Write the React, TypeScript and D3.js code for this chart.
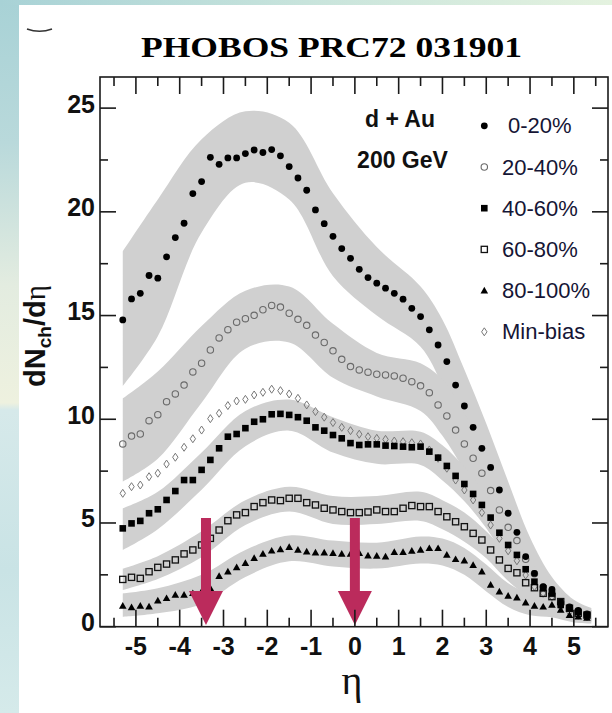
import React from 'react';
import * as d3 from 'd3';

// ---------- data ----------
const eta = [
  -5.3, -5.1, -4.9, -4.7, -4.5, -4.3, -4.1, -3.9, -3.7, -3.5, -3.3, -3.1, -2.9, -2.7, -2.5, -2.3, -2.1, -1.9,
  -1.7, -1.5, -1.3, -1.1, -0.9, -0.7, -0.5, -0.3, -0.1, 0.1, 0.3, 0.5, 0.7, 0.9, 1.1, 1.3, 1.5, 1.7,
  1.9, 2.1, 2.3, 2.5, 2.7, 2.9, 3.1, 3.3, 3.5, 3.7, 3.9, 4.1, 4.3, 4.5, 4.7, 4.9, 5.1, 5.3,
];

const c0_20 = [
  14.79, 15.8, 16.07, 16.93, 16.8, 17.83, 18.76, 19.45, 20.88, 21.46, 22.63, 22.29, 22.6, 22.6, 22.81, 22.98, 22.86, 23.0,
  22.7, 22.18, 21.63, 21.04, 20.09, 19.43, 18.82, 18.23, 17.76, 17.23, 16.83, 16.56, 16.32, 16.07, 15.79, 15.35, 14.95, 14.31,
  13.58, 12.78, 11.65, 10.64, 9.61, 8.6, 7.68, 6.59, 5.47, 4.55, 3.38, 2.57, 1.93, 1.8, 1.2, 0.95, 0.78, 0.62,
];
const c20_40 = [
  8.81, 9.19, 9.29, 9.93, 10.22, 10.85, 11.22, 11.65, 12.28, 12.7, 13.34, 13.92, 14.32, 14.68, 14.85, 15.01, 15.28, 15.49,
  15.41, 15.11, 14.82, 14.53, 14.06, 13.7, 13.3, 12.89, 12.54, 12.38, 12.27, 12.17, 12.14, 12.09, 11.98, 11.81, 11.61, 11.28,
  10.69, 10.16, 9.48, 8.81, 8.12, 7.4, 6.56, 5.63, 4.79, 4.15, 3.25, 2.55, 1.9, 1.6, 1.15, 0.9, 0.72, 0.58,
];
const c40_60 = [
  4.74, 4.98, 5.1, 5.47, 5.66, 6.11, 6.54, 7.07, 7.07, 7.56, 8.04, 8.6, 9.16, 9.29, 9.57, 9.88, 10.0, 10.24,
  10.26, 10.21, 10.1, 9.93, 9.61, 9.45, 9.24, 9.08, 8.85, 8.76, 8.79, 8.79, 8.73, 8.71, 8.68, 8.65, 8.68, 8.44,
  8.15, 7.75, 7.27, 6.88, 6.4, 5.87, 5.26, 4.53, 3.94, 3.46, 2.77, 2.17, 1.85, 1.6, 1.05, 0.89, 0.72, 0.56,
];
const c60_80 = [
  2.28, 2.38, 2.33, 2.65, 2.86, 3.02, 3.22, 3.51, 3.7, 3.94, 4.26, 4.66, 5.11, 5.39, 5.5, 5.79, 5.98, 6.11,
  6.08, 6.19, 6.19, 5.98, 5.87, 5.71, 5.63, 5.55, 5.5, 5.5, 5.53, 5.63, 5.55, 5.55, 5.71, 5.84, 5.79, 5.79,
  5.55, 5.3, 5.06, 4.82, 4.5, 4.18, 3.7, 3.22, 2.81, 2.6, 2.12, 1.88, 1.61, 1.45, 1.21, 0.89, 0.65, 0.56,
];
const c80_100 = [
  1.0, 0.93, 1.0, 0.97, 1.25, 1.37, 1.53, 1.53, 1.61, 1.69, 1.85, 2.44, 2.65, 2.86, 3.06, 3.3, 3.51, 3.66,
  3.73, 3.83, 3.7, 3.62, 3.57, 3.57, 3.54, 3.51, 3.51, 3.54, 3.42, 3.41, 3.38, 3.59, 3.59, 3.65, 3.7, 3.78,
  3.78, 3.46, 3.25, 3.18, 2.97, 2.65, 2.01, 1.69, 1.48, 1.4, 1.16, 1.0, 0.96, 1.05, 0.81, 0.56, 0.48, 0.42,
];
const minBias = [
  6.43, 6.75, 6.83, 7.23, 7.4, 7.84, 8.17, 8.65, 9.06, 9.48, 10.03, 10.29, 10.66, 10.88, 10.96, 11.17, 11.3, 11.45,
  11.38, 11.22, 11.01, 10.69, 10.37, 10.1, 9.84, 9.61, 9.45, 9.28, 9.16, 9.08, 9.03, 8.95, 8.92, 8.87, 8.81, 8.52,
  8.12, 7.64, 7.07, 6.59, 6.11, 5.5, 4.9, 4.26, 3.66, 3.18, 2.49, 1.93, 1.61, 1.45, 0.95, 0.7, 0.55, 0.48,
];

// systematic-error bands
const bandEta = [-5.3, -4.5, -3.5, -2.5, -1.5, -0.5, 0.5, 1.5, 2.0, 2.5, 3.0, 3.5, 4.0, 4.5, 5.0, 5.4];
const band0_20Hi = [18.1, 20.6, 23.5, 24.85, 24.3, 20.9, 18.3, 16.4, 14.8, 12.4, 9.8, 7.0, 4.3, 2.4, 1.3, 0.9];
const band0_20Lo = [11.6, 14.0, 19.0, 21.4, 20.6, 16.9, 15.0, 13.5, 11.6, 8.9, 6.4, 4.0, 2.0, 1.0, 0.5, 0.35];
const band20_40Hi = [11.0, 12.3, 14.5, 16.2, 16.4, 14.6, 13.2, 12.7, 11.9, 10.3, 8.4, 6.1, 3.9, 2.2, 1.2, 0.8];
const band20_40Lo = [7.0, 8.1, 10.8, 13.4, 13.7, 12.0, 11.1, 10.4, 9.2, 7.5, 5.6, 3.6, 1.9, 0.9, 0.45, 0.3];
const band40_60Hi = [5.7, 6.5, 8.4, 10.4, 10.95, 10.1, 9.45, 9.4, 8.75, 7.7, 6.35, 4.75, 3.2, 2.0, 1.15, 0.8];
const band40_60Lo = [3.7, 4.7, 6.6, 8.7, 9.45, 8.4, 7.85, 7.8, 7.05, 6.05, 4.75, 3.15, 1.8, 1.0, 0.45, 0.25];
const band60_80Hi = [2.8, 3.4, 4.6, 6.1, 6.75, 6.3, 6.3, 6.5, 6.1, 5.5, 4.6, 3.5, 2.6, 1.9, 1.2, 0.8];
const band60_80Lo = [1.77, 2.3, 3.35, 4.9, 5.55, 4.95, 4.95, 5.1, 4.7, 4.1, 3.3, 2.2, 1.4, 0.95, 0.4, 0.25];
const band80_100Hi = [1.6, 1.85, 2.5, 3.7, 4.4, 4.15, 4.05, 4.35, 4.25, 3.8, 3.0, 2.1, 1.6, 1.4, 0.95, 0.7];
const band80_100Lo = [0.48, 0.65, 1.1, 2.4, 3.15, 2.9, 2.8, 3.05, 2.95, 2.5, 1.7, 0.95, 0.55, 0.45, 0.2, 0.15];

const yMajorTicks = [0, 5, 10, 15, 20, 25];
const yMinorTicks = [2.5, 7.5, 12.5, 17.5, 22.5];
const yTickLabels = ['0', '5', '10', '15', '20', '25'];
const xMajorTicks = [-5, -4, -3, -2, -1, 0, 1, 2, 3, 4, 5];
const xMinorTicks = [-5.5, -4.5, -3.5, -2.5, -1.5, -0.5, 0.5, 1.5, 2.5, 3.5, 4.5, 5.5];
const xTickLabels = ['-5', '-4', '-3', '-2', '-1', '0', '1', '2', '3', '4', '5'];
const legendLabels = ['0-20%', '20-40%', '40-60%', '60-80%', '80-100%', 'Min-bias'];
const titleText = 'PHOBOS PRC72 031901';
const systemLines = ['d + Au', '200 GeV'];
const arrowEta = [-3.4, 0];
const arrowTopVal = 5.24;
const arrowHeadVal = 1.72;
const arrowTipVal = 0.08;

// ---------- layout ----------
const W = 612;
const H = 713;
const X0 = 100, X1 = 608, Y0 = 77, Y1 = 626.7;
const x = d3.scaleLinear().domain([-5.82, 5.78]).range([X0, X1]);
const y = d3.scaleLinear().domain([0, 26.5]).range([Y1, Y0]);

const SANS = '"Liberation Sans", Arial, Helvetica, sans-serif';
const SERIF = '"Liberation Serif", "Times New Roman", serif';
const BAND = '#d0d0d0';
const AXIS = '#1a1a1a';
const ARROW = '#bb2b5c';

type Kind = 'fc' | 'oc' | 'fs' | 'os' | 'ft' | 'od';

function Marker({ kind, cx, cy }: { kind: Kind; cx: number; cy: number }) {
  switch (kind) {
    case 'fc':
      return <circle cx={cx} cy={cy} r={3.4} fill="#000" />;
    case 'oc':
      return <circle cx={cx} cy={cy} r={3.2} fill="none" stroke="#6a6a6a" strokeWidth={1.1} />;
    case 'fs':
      return <rect x={cx - 3.3} y={cy - 3.3} width={6.6} height={6.6} fill="#000" />;
    case 'os':
      return <rect x={cx - 3.1} y={cy - 3.1} width={6.2} height={6.2} fill="none" stroke="#111" strokeWidth={1.3} />;
    case 'ft':
      return <path d={`M${cx},${cy - 3.9} L${cx + 3.8},${cy + 2.8} L${cx - 3.8},${cy + 2.8} Z`} fill="#000" />;
    case 'od':
      return (
        <path
          d={`M${cx},${cy - 4} L${cx + 2.7},${cy} L${cx},${cy + 4} L${cx - 2.7},${cy} Z`}
          fill="none"
          stroke="#777"
          strokeWidth={1}
        />
      );
  }
  return null;
}

const seriesList: { name: string; values: number[]; kind: Kind }[] = [
  { name: legendLabels[5], values: minBias, kind: 'od' },
  { name: legendLabels[1], values: c20_40, kind: 'oc' },
  { name: legendLabels[0], values: c0_20, kind: 'fc' },
  { name: legendLabels[3], values: c60_80, kind: 'os' },
  { name: legendLabels[2], values: c40_60, kind: 'fs' },
  { name: legendLabels[4], values: c80_100, kind: 'ft' },
];
const legendKinds: Kind[] = ['fc', 'oc', 'fs', 'os', 'ft', 'od'];

const bands = [
  { hi: band0_20Hi, lo: band0_20Lo },
  { hi: band20_40Hi, lo: band20_40Lo },
  { hi: band40_60Hi, lo: band40_60Lo },
  { hi: band60_80Hi, lo: band60_80Lo },
  { hi: band80_100Hi, lo: band80_100Lo },
];

export default function App() {
  const area = d3
    .area<number>()
    .x((_, i) => x(bandEta[i]))
    .curve(d3.curveCatmullRom.alpha(0.5));

  return (
    <svg
      width={W}
      height={H}
      viewBox={`0 0 ${W} ${H}`}
      style={{ position: 'absolute', left: 0, top: 0, display: 'block', background: '#fff' }}
    >
      <defs>
        <linearGradient id="leftStrip" x1="0" y1="0" x2="0" y2="1">
          <stop offset="0" stopColor="#a8d2d6" />
          <stop offset="0.2" stopColor="#b9d9db" />
          <stop offset="0.4" stopColor="#e3ece0" />
          <stop offset="0.565" stopColor="#eef1df" />
          <stop offset="0.575" stopColor="#d6e9ea" />
          <stop offset="0.8" stopColor="#c9e3e5" />
          <stop offset="1" stopColor="#d5eaea" />
        </linearGradient>
        <linearGradient id="topStrip" x1="0" y1="0" x2="1" y2="0">
          <stop offset="0" stopColor="#a8d2d6" />
          <stop offset="0.5" stopColor="#c8e4dc" />
          <stop offset="1" stopColor="#e4f2df" />
        </linearGradient>
        <clipPath id="plotClip">
          <rect x={X0} y={Y0} width={X1 - X0} height={Y1 - Y0} />
        </clipPath>
      </defs>

      {/* background */}
      <rect x={0} y={0} width={W} height={H} fill="#fff" />
      <rect x={0} y={0} width={19} height={H} fill="url(#leftStrip)" />
      <rect x={0} y={0} width={W} height={5} fill="url(#topStrip)" />
      <path d="M27,29 Q39.5,33.5 52,29" fill="none" stroke="#333" strokeWidth={1.6} />

      {/* title */}
      <text
        x={331.5}
        y={57}
        textAnchor="middle"
        fontFamily={SERIF}
        fontWeight="bold"
        fontSize={30}
        textLength={381}
        lengthAdjust="spacingAndGlyphs"
        fill="#000"
      >
        {titleText}
      </text>

      {/* bands */}
      <g clipPath="url(#plotClip)">
        {bands.map((b, k) => (
          <path
            key={k}
            d={area.y0((_, i) => y(b.lo[i])).y1((_, i) => y(b.hi[i]))(bandEta) || ''}
            fill={BAND}
          />
        ))}
      </g>

      {/* data */}
      <g clipPath="url(#plotClip)">
        {seriesList.map((s) => (
          <g key={s.name}>
            {s.values.map((v, i) => (
              <Marker key={i} kind={s.kind} cx={x(eta[i])} cy={y(v)} />
            ))}
          </g>
        ))}
      </g>

      {/* arrows */}
      {arrowEta.map((e, i) => {
        const cx = x(e);
        const yt = y(arrowTopVal);
        const yh = y(arrowHeadVal);
        const yp = y(arrowTipVal);
        const sw = 5;
        const hw = 17;
        return (
          <path
            key={i}
            d={`M${cx - sw},${yt} L${cx + sw},${yt} L${cx + sw},${yh} L${cx + hw},${yh} L${cx},${yp} L${cx - hw},${yh} L${cx - sw},${yh} Z`}
            fill={ARROW}
          />
        );
      })}

      {/* frame and ticks */}
      <g stroke={AXIS} strokeWidth={1.6} fill="none">
        <rect x={X0} y={Y0} width={X1 - X0} height={Y1 - Y0} />
        {yMajorTicks.map((t) => (
          <g key={'ym' + t}>
            <line x1={X0} x2={X0 + 16} y1={y(t)} y2={y(t)} />
            <line x1={X1} x2={X1 - 16} y1={y(t)} y2={y(t)} />
          </g>
        ))}
        {yMinorTicks.map((t) => (
          <g key={'yn' + t}>
            <line x1={X0} x2={X0 + 8} y1={y(t)} y2={y(t)} />
            <line x1={X1} x2={X1 - 8} y1={y(t)} y2={y(t)} />
          </g>
        ))}
        {xMajorTicks.map((t) => (
          <g key={'xm' + t}>
            <line x1={x(t)} x2={x(t)} y1={Y1} y2={Y1 - 17} />
            <line x1={x(t)} x2={x(t)} y1={Y0} y2={Y0 + 17} />
          </g>
        ))}
        {xMinorTicks.map((t) => (
          <g key={'xn' + t}>
            <line x1={x(t)} x2={x(t)} y1={Y1} y2={Y1 - 9} />
            <line x1={x(t)} x2={x(t)} y1={Y0} y2={Y0 + 9} />
          </g>
        ))}
      </g>

      {/* tick labels */}
      <g fontFamily={SANS} fontWeight="bold" fontSize={25} fill="#111">
        {yMajorTicks.map((t, i) => (
          <text key={'yl' + t} x={X0 - 5} y={y(t) + 4.5} textAnchor="end">
            {yTickLabels[i]}
          </text>
        ))}
        {xMajorTicks.map((t, i) => (
          <text key={'xl' + t} x={x(t)} y={655} textAnchor="middle">
            {xTickLabels[i]}
          </text>
        ))}
      </g>

      {/* axis titles */}
      <text x={352} y={694} textAnchor="middle" fontFamily={SERIF} fontSize={40} fill="#111">
        η
      </text>
      <text
        transform="rotate(-90, 45, 336)"
        x={45}
        y={336}
        textAnchor="middle"
        fontFamily={SANS}
        fontWeight="bold"
        fontSize={29}
        fill="#111"
      >
        dN
        <tspan fontSize={19} dy={6}>
          ch
        </tspan>
        <tspan dy={-6}>/d</tspan>
        <tspan fontFamily={SERIF} fontWeight="normal">
          η
        </tspan>
      </text>

      {/* system label */}
      <g fontFamily={SANS} fontWeight="bold" fontSize={23} fill="#111" textAnchor="middle">
        <text x={400} y={126.7}>
          {systemLines[0]}
        </text>
        <text x={402.5} y={168.3}>
          {systemLines[1]}
        </text>
      </g>

      {/* legend */}
      <g fontFamily={SANS} fontSize={22} fill="#151535">
        {legendLabels.map((lab, i) => {
          const by = 133.3 + 41.2 * i;
          return (
            <g key={lab}>
              <Marker kind={legendKinds[i]} cx={484.3} cy={by - 7.5} />
              <text x={i === 0 ? 508 : 502} y={by}>
                {lab}
              </text>
            </g>
          );
        })}
      </g>
    </svg>
  );
}
